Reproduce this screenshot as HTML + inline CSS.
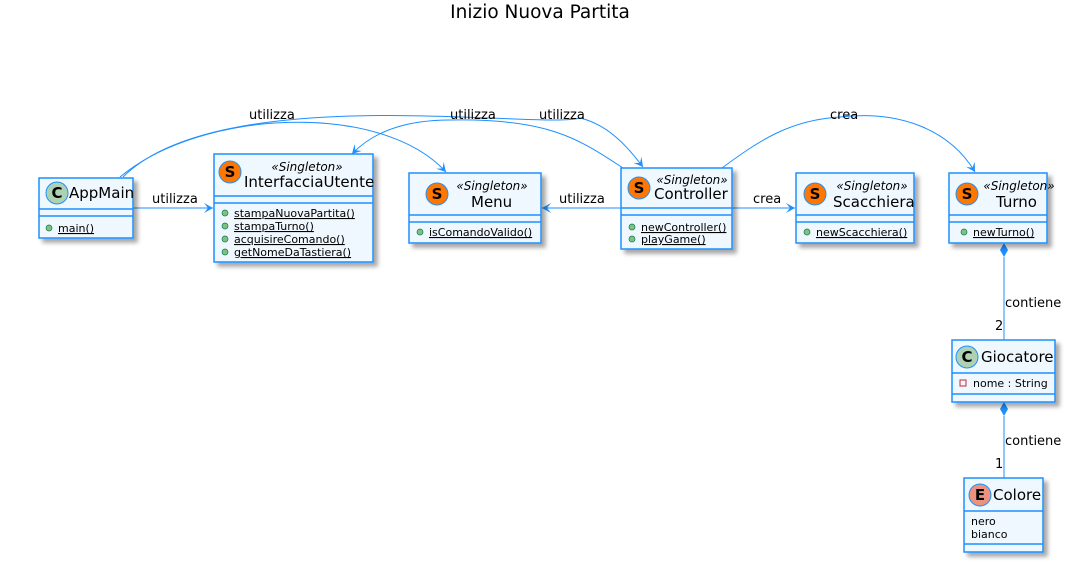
<!DOCTYPE html>
<html><head><meta charset="utf-8"><style>body{margin:0;background:#fff}svg{display:block}text{font-family:"DejaVu Sans","Liberation Sans",sans-serif}</style></head><body>
<svg width="1071" height="562" xmlns="http://www.w3.org/2000/svg">
<defs>
<filter id="sh" x="-10%" y="-10%" width="130%" height="130%"><feDropShadow dx="4" dy="4" stdDeviation="2" flood-color="#000" flood-opacity="0.35"/></filter>
<marker id="ar" markerWidth="10" markerHeight="10" refX="9" refY="5" orient="auto" markerUnits="userSpaceOnUse"><path d="M0,0 L9,5 L0,10 L4,5 Z" fill="#1E90FF"/></marker>
</defs>
<text x="540" y="18" font-size="18.5" text-anchor="middle">Inizio Nuova Partita</text>
<g fill="none" stroke="#1E90FF" stroke-width="1">
<path d="M133,208 L213,208" marker-end="url(#ar)"/>
<path d="M621,208 L542,208" marker-end="url(#ar)"/>
<path d="M732,208 L795,208" marker-end="url(#ar)"/>
<path d="M120,177 C200,110 380,100 446,172" marker-end="url(#ar)"/>
<path d="M123,177 C220,80 540,130 580,118 C610,125 630,150 643,167" marker-end="url(#ar)"/>
<path d="M623,168 C580,140 550,118 450,120 C400,120 370,135 352,154" marker-end="url(#ar)"/>
<path d="M722,168 C760,140 790,120 840,117 C900,110 950,130 975,172" marker-end="url(#ar)"/>
<path d="M1004,257 L1004,340"/>
<path d="M1004,416 L1004,478"/>
</g>
<path d="M1004,243 L1008,250 L1004,257 L1000,250 Z" fill="#1E90FF"/>
<path d="M1004,402 L1008,409 L1004,416 L1000,409 Z" fill="#1E90FF"/>
<g font-size="13">
<text x="152" y="203">utilizza</text>
<text x="249" y="119">utilizza</text>
<text x="450" y="119">utilizza</text>
<text x="539" y="119">utilizza</text>
<text x="559" y="203">utilizza</text>
<text x="753" y="203">crea</text>
<text x="830" y="119">crea</text>
<text x="1005" y="307">contiene</text>
<text x="995" y="330">2</text>
<text x="1005" y="445">contiene</text>
<text x="995" y="468">1</text>
</g>
<g stroke="#1E90FF" stroke-width="1.5" fill="#F0F8FF">
<rect x="39" y="178" width="94" height="60" filter="url(#sh)"/>
<rect x="214" y="154" width="159" height="108" filter="url(#sh)"/>
<rect x="409" y="173" width="132" height="70" filter="url(#sh)"/>
<rect x="621" y="168" width="111" height="81" filter="url(#sh)"/>
<rect x="796" y="173" width="118" height="70" filter="url(#sh)"/>
<rect x="949" y="173" width="98" height="70" filter="url(#sh)"/>
<rect x="952" y="340" width="103" height="62" filter="url(#sh)"/>
<rect x="964" y="478" width="79" height="74" filter="url(#sh)"/>
</g>
<g stroke="#1E90FF" stroke-width="1.5">
<path d="M39,209H133M39,216H133"/>
<path d="M214,196H373M214,203H373"/>
<path d="M409,215H541M409,222H541"/>
<path d="M621,208H732M621,215H732"/>
<path d="M796,215H914M796,222H914"/>
<path d="M949,215H1047M949,222H1047"/>
<path d="M952,373H1055M952,394H1055"/>
<path d="M964,511H1043M964,544H1043"/>
</g>
<g stroke="#1E90FF" stroke-width="1">
<circle cx="57" cy="193" r="11" fill="#ADD1B2"/>
<circle cx="230" cy="172" r="11" fill="#FF7700"/>
<circle cx="437" cy="194" r="11" fill="#FF7700"/>
<circle cx="639" cy="188" r="11" fill="#FF7700"/>
<circle cx="815" cy="194" r="11" fill="#FF7700"/>
<circle cx="967" cy="194" r="11" fill="#FF7700"/>
<circle cx="967" cy="357" r="11" fill="#ADD1B2"/>
<circle cx="980" cy="495" r="11" fill="#EB937F"/>
</g>
<g font-family="Liberation Mono,monospace" font-weight="bold" font-size="15" text-anchor="middle">
<text x="57" y="198">C</text><text x="230" y="177">S</text><text x="437" y="199">S</text><text x="639" y="193">S</text><text x="815" y="199">S</text><text x="967" y="199">S</text><text x="967" y="362">C</text><text x="980" y="500">E</text>
</g>
<g font-size="12" font-style="italic" text-anchor="middle">
<text x="307" y="171">«Singleton»</text>
<text x="492" y="190">«Singleton»</text>
<text x="692" y="184">«Singleton»</text>
<text x="872" y="190">«Singleton»</text>
<text x="1019" y="190">«Singleton»</text>
</g>
<g font-size="15">
<text x="69" y="198">AppMain</text>
<text x="244" y="187">InterfacciaUtente</text>
<text x="471" y="207">Menu</text>
<text x="654" y="199">Controller</text>
<text x="833" y="207">Scacchiera</text>
<text x="996" y="207">Turno</text>
<text x="981" y="362">Giocatore</text>
<text x="993" y="500">Colore</text>
</g>
<g fill="#84BE84" stroke="#038048" stroke-width="0.7">
<circle cx="49" cy="228" r="3"/>
<circle cx="225" cy="213" r="3"/><circle cx="225" cy="226" r="3"/><circle cx="225" cy="239" r="3"/><circle cx="225" cy="252" r="3"/>
<circle cx="420" cy="232" r="3"/>
<circle cx="632" cy="227" r="3"/><circle cx="632" cy="239" r="3"/>
<circle cx="807" cy="232" r="3"/>
<circle cx="964" cy="232" r="3"/>
</g>
<rect x="960" y="380" width="6" height="6" fill="none" stroke="#C82930"/>
<g font-size="11" text-decoration="underline">
<text x="58" y="232">main()</text>
<text x="234" y="217">stampaNuovaPartita()</text>
<text x="234" y="230">stampaTurno()</text>
<text x="234" y="243">acquisireComando()</text>
<text x="234" y="256">getNomeDaTastiera()</text>
<text x="429" y="236">isComandoValido()</text>
<text x="641" y="231">newController()</text>
<text x="641" y="243">playGame()</text>
<text x="816" y="236">newScacchiera()</text>
<text x="973" y="236">newTurno()</text>
</g>
<g font-size="11">
<text x="973" y="387">nome : String</text>
<text x="971" y="525">nero</text>
<text x="971" y="538">bianco</text>
</g>
</svg>
</body></html>
